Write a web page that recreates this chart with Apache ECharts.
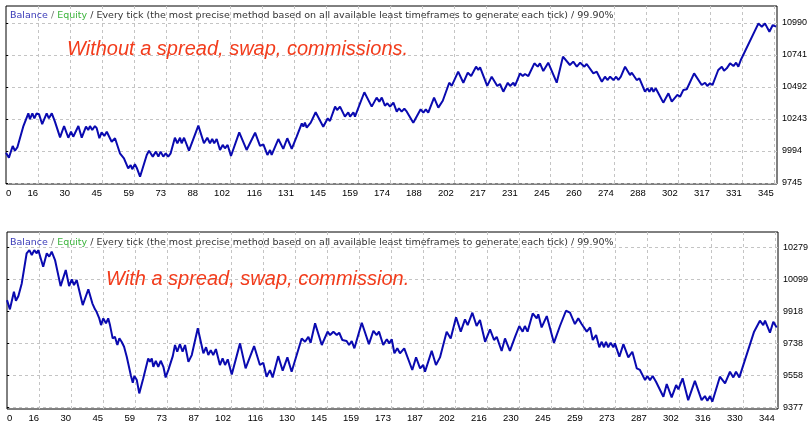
<!DOCTYPE html>
<html><head><meta charset="utf-8">
<script src="https://cdn.jsdelivr.net/npm/echarts@6/dist/echarts.min.js"></script>
<style>html,body{margin:0;padding:0;background:#fff}#c{width:812px;height:426px}</style>
</head><body><div id="c"></div>
<script>
// ---- Top panel: without spread/swap/commission ----
const topTrade = [
0,1.3,3.0,4.0,5.1,7.7,10.0,10.7,11.8,12.7,
13.7,14.8,16.2,18.2,19.2,20.5,21.9,24.2,26.0,27.9,
29.1,30.1,32.4,33.9,35.8,36.8,37.6,38.6,39.8,40.6,
41.8,42.8,44.0,45.1,47.3,48.8,51.0,52.8,54.7,55.8,
56.5,57.7,58.5,60.0,63.0,64.0,65.7,67.1,68.2,69.2,
70.4,71.5,72.6,73.7,75.6,76.7,77.9,78.6,79.7,81.9,
86.1,88.6,90.1,91.3,92.3,93.2,94.3,95.8,97.0,98.0,
99.2,100.7,104.4,107.7,111.5,113.7,115.2,117.0,118.2,118.9,
121.9,124.1,125.9,127.9,130.1,132.4,133.1,133.8,134.6,136.4,
138.6,142.0,144.0,145.0,147.3,148.2,149.5,151.7,153.2,154.0,
155.5,156.2,160.4,163.7,165.9,167.1,168.2,169.6,170.7,171.9,
173.4,174.9,175.9,177.1,178.3,179.4,182.3,185.6,186.8,187.9,
189.0,191.6,193.5,195.5,198.4,199.5,202.4,204.7,206.7,208.2,
210.4,211.4,212.2,215.4,217.4,219.9,221.1,222.6,224.6,225.6,
227.1,227.8,230.1,231.3,232.3,233.8,236.5,238.0,239.0,240.5,
242.7,246.5,249.3,252.4,253.9,255.5,257.0,258.9,259.9,262.9,
264.4,266.7,268.1,269.2,270.4,271.9,273.1,274.1,275.2,277.1,
279.3,280.1,282.3,283.5,286.0,287.1,288.0,289.0,289.8,290.8,
292.0,294.2,296.5,298.0,300.5,301.7,303.2,304.7,308.0,311.4,
312.9,313.9,315.1,316.2,318.8,320.4,321.4,322.6,324.1,325.6,
326.8,327.8,328.9,336.8,338.3,339.7,341.7,343.2,344.7
];
const topBalance = [
9981,9942,10033,9996,10023,10183,10287,10241,10287,10248,
10287,10280,10202,10287,10248,10287,10222,10100,10188,10097,
10144,10105,10188,10097,10183,10157,10188,10157,10188,10171,
10093,10139,10111,10144,10066,10093,9976,9937,9859,9885,
9852,9890,9864,9794,9963,9996,9950,9989,9950,9989,
9950,9976,9950,9976,10097,10054,10097,10054,10097,9996,
10191,10054,10097,10054,10087,10054,10087,10002,10041,10015,
10041,9955,10139,10002,10136,10033,10046,9963,10002,9963,
10087,10010,10093,10010,10105,10209,10183,10214,10175,10214,
10295,10183,10248,10227,10339,10313,10339,10261,10295,10261,
10295,10261,10451,10339,10409,10378,10409,10346,10365,10339,
10370,10300,10326,10300,10323,10300,10214,10318,10292,10318,
10292,10409,10331,10385,10525,10500,10611,10525,10603,10577,
10650,10624,10645,10500,10572,10500,10515,10455,10525,10500,
10525,10500,10598,10577,10593,10577,10676,10650,10676,10616,
10681,10525,10728,10663,10689,10650,10681,10650,10671,10598,
10611,10533,10572,10546,10572,10546,10572,10546,10572,10650,
10585,10603,10546,10559,10455,10482,10455,10486,10455,10482,
10443,10370,10443,10378,10430,10416,10469,10474,10598,10507,
10525,10500,10521,10507,10624,10650,10619,10637,10676,10655,
10681,10650,10702,10987,10961,10987,10922,10974,10961
];
const topXLabels = ['0','16','30','45','59','73','88','102','116','131','145','159','174','188','202','217','231','245','260','274','288','302','317','331','345'];
const topYTicks = [9745, 9994, 10243, 10492, 10741, 10990];

// ---- Bottom panel: with spread/swap/commission ----
const botTrade = [
0,1.3,3.1,4.0,5.1,6.6,8.8,10.0,11.1,12.2,
13.3,14.0,14.8,16.2,17.8,18.9,20.0,21.5,24.0,26.3,
27.8,29.0,30.0,31.2,33.9,36.4,38.2,39.4,40.1,41.3,
42.1,43.1,44.3,45.3,46.1,47.3,48.3,49.4,50.3,51.3,
52.4,53.6,55.5,56.3,57.0,58.1,59.2,61.0,63.2,64.0,
64.8,65.5,66.6,67.7,68.8,70.0,71.0,72.2,74.2,75.2,
76.2,77.4,78.6,79.7,81.2,82.7,85.4,87.9,89.1,90.1,
91.2,92.3,93.5,95.3,96.5,97.6,98.8,100.6,104.3,106.8,
110.6,113.2,114.7,116.2,117.7,118.9,121.4,123.4,125.5,127.4,
129.9,131.9,133.4,134.9,135.9,137.9,140.9,143.5,144.6,146.1,
147.6,148.7,150.1,152.0,153.1,154.3,155.5,158.8,162.0,164.0,
165.5,166.5,168.4,170.0,171.1,172.2,173.4,174.7,175.9,177.8,
181.4,183.1,184.9,186.3,187.1,190.1,192.0,193.8,196.8,198.6,
201.0,203.1,205.0,206.2,208.3,210.2,211.7,214.0,216.2,218.0,
219.2,221.4,222.9,225.1,227.4,229.3,230.8,231.8,233.0,235.3,
237.1,237.8,239.3,241.6,244.8,247.5,250.2,252.0,254.2,255.7,
257.2,259.5,261.0,262.2,263.7,265.1,266.2,267.2,268.1,269.1,
270.2,271.4,272.1,274.1,275.9,278.1,279.9,281.9,283.3,285.6,
286.6,287.8,289.0,290.5,293.8,295.3,297.5,299.5,300.5,302.4,
304.9,307.9,310.9,312.4,313.5,314.7,315.7,319.1,321.4,323.6,
325.1,326.3,327.8,334.4,337.0,338.5,339.3,341.5,343.0,344.5
];
const botBalance = [
9983,9931,10030,9979,10006,10077,10247,10265,10237,10265,
10247,10265,10256,10171,10247,10228,10256,10209,10062,10153,
10062,10100,10068,10096,9955,10044,9965,9931,9917,9880,
9842,9880,9852,9880,9842,9767,9776,9730,9767,9748,
9720,9664,9555,9517,9555,9532,9457,9542,9654,9635,
9654,9607,9641,9607,9641,9607,9547,9588,9667,9730,
9692,9735,9692,9730,9635,9673,9824,9683,9717,9673,
9701,9673,9707,9617,9654,9617,9649,9564,9739,9598,
9724,9617,9630,9551,9588,9547,9667,9585,9660,9579,
9683,9767,9748,9776,9742,9852,9730,9805,9786,9805,
9786,9799,9758,9752,9730,9752,9711,9855,9735,9810,
9786,9805,9730,9762,9739,9762,9683,9711,9683,9711,
9589,9660,9598,9617,9579,9697,9617,9660,9805,9767,
9886,9805,9874,9842,9912,9837,9871,9748,9818,9758,
9776,9696,9767,9697,9776,9837,9805,9837,9805,9908,
9880,9903,9829,9893,9742,9837,9923,9912,9848,9880,
9848,9805,9829,9758,9786,9717,9748,9717,9748,9717,
9742,9717,9739,9664,9735,9660,9692,9598,9589,9532,
9555,9532,9555,9523,9438,9510,9435,9504,9480,9542,
9419,9528,9419,9442,9415,9442,9410,9551,9514,9579,
9547,9579,9547,9805,9867,9842,9867,9799,9861,9829
];
const botXLabels = ['0','16','30','45','59','73','87','102','116','130','145','159','173','187','202','216','230','245','259','273','287','302','316','330','344'];
const botYTicks = [9377, 9558, 9738, 9918, 10099, 10279];

const headerText = '{b|Balance}{s| / }{e|Equity} / Every tick (the most precise method based on all available least timeframes to generate each tick) / 99.90%';
const topNote = 'Without a spread, swap, commissions.';
const botNote = 'With a spread, swap, commission.';

// ---- layout / style ----
const X_MAX = 345.1, X_STEP = 14.32;
const xTickPos = topXLabels.map((_, i) => i * X_STEP);
const FONT = 'Liberation Sans';
const HFONT = 'DejaVu Sans';
const HSIZE = 9.5;
const LINE_COLOR = '#0a0ab0';
const GRID_COLOR = '#c4c4c4';

function zip(a, b) { return a.map((x, i) => [x, b[i]]); }

function makeX(gridIndex, labels) {
  return {
    type: 'value', gridIndex, min: 0, max: X_MAX,
    axisLine: { show: false },
    axisTick: { show: false, customValues: xTickPos.slice(1) },
    axisLabel: {
      customValues: xTickPos,
      formatter: v => labels[Math.round(v / X_STEP)] || '',
      align: 'right', alignMinLabel: 'left',
      margin: 4, fontSize: 9.5, color: '#000', fontFamily: FONT
    },
    splitLine: { show: true, lineStyle: { color: GRID_COLOR, type: [3, 3], width: 1 } }
  };
}
function makeY(gridIndex, ticks, min, max) {
  return {
    type: 'value', gridIndex, position: 'right', min, max,
    axisLine: { show: false },
    axisTick: { show: true, inside: false, length: 2, customValues: ticks, lineStyle: { color: '#000' } },
    axisLabel: { customValues: ticks, margin: 5, fontSize: 9, color: '#000', fontFamily: FONT,
      formatter: v => String(Math.round(v)) },
    splitLine: { show: true, lineStyle: { color: GRID_COLOR, type: [3, 3], width: 1 } }
  };
}
const headerStyle = {
  fontSize: HSIZE, fontWeight: 'normal', fontFamily: HFONT, color: '#333',
  rich: {
    b: { color: '#3a3ab8', fontSize: HSIZE, fontFamily: HFONT },
    s: { color: '#777', fontSize: HSIZE, fontFamily: HFONT },
    e: { color: '#3cb43c', fontSize: HSIZE, fontFamily: HFONT }
  }
};
const noteStyle = { fontSize: 20, fontStyle: 'italic', fontWeight: 'normal', fontFamily: FONT, color: '#f23c1c' };

const chart = echarts.init(document.getElementById('c'), null, { renderer: 'canvas' });
chart.setOption({
  animation: false,
  backgroundColor: '#fff',
  title: [
    { text: headerText, left: 10, top: 11, padding: 0, textStyle: headerStyle },
    { text: headerText, left: 10, top: 238, padding: 0, textStyle: headerStyle },
    { text: topNote, left: 67, top: 39, padding: 0, textStyle: noteStyle },
    { text: botNote, left: 106, top: 269, padding: 0, textStyle: noteStyle }
  ],
  grid: [
    { left: 6, top: 6, width: 771, height: 178, show: true, borderColor: '#000', borderWidth: 1, backgroundColor: 'transparent' },
    { left: 7, top: 232, width: 771, height: 177, show: true, borderColor: '#000', borderWidth: 1, backgroundColor: 'transparent' }
  ],
  xAxis: [makeX(0, topXLabels), makeX(1, botXLabels)],
  yAxis: [makeY(0, topYTicks, 9737, 11122), makeY(1, botYTicks, 9369, 10367)],
  series: [
    { type: 'line', xAxisIndex: 0, yAxisIndex: 0, data: zip(topTrade, topBalance), symbol: 'none', silent: true,
      lineStyle: { color: LINE_COLOR, width: 2 } },
    { type: 'line', xAxisIndex: 1, yAxisIndex: 1, data: zip(botTrade, botBalance), symbol: 'none', silent: true,
      lineStyle: { color: LINE_COLOR, width: 2 } }
  ]
});
</script></body></html>
